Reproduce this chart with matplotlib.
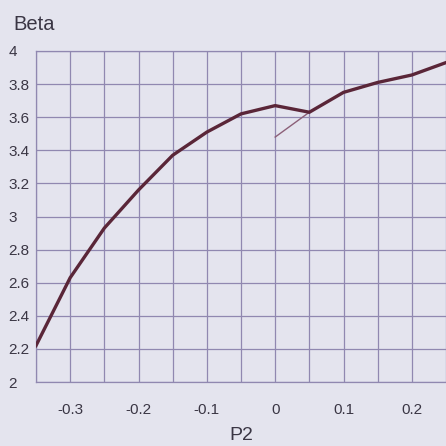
import matplotlib
matplotlib.use("Agg")
import matplotlib.pyplot as plt
import numpy as np

# Data
p2 = [-0.35, -0.30, -0.25, -0.20, -0.15, -0.10, -0.05, 0.00, 0.05, 0.10, 0.15, 0.20, 0.25]
beta = [2.22, 2.63, 2.93, 3.16, 3.37, 3.51, 3.62, 3.67, 3.63, 3.75, 3.81, 3.855, 3.93]
p2_branch = [0.00, 0.05]
beta_branch = [3.48, 3.63]

x_ticks = [-0.35, -0.30, -0.25, -0.20, -0.15, -0.10, -0.05, 0.00, 0.05, 0.10, 0.15, 0.20, 0.25]
x_labels = ["", "-0.3", "", "-0.2", "", "-0.1", "", "0", "", "0.1", "", "0.2", ""]
y_ticks = [2, 2.2, 2.4, 2.6, 2.8, 3, 3.2, 3.4, 3.6, 3.8, 4]
y_labels = ["2", "2.2", "2.4", "2.6", "2.8", "3", "3.2", "3.4", "3.6", "3.8", "4"]

bg = "#e4e4ee"
grid_c = "#9088b0"
text_c = "#3a3644"

plt.rcParams['font.family'] = ['Liberation Sans', 'DejaVu Sans']

fig = plt.figure(figsize=(4.46, 4.46), dpi=100, facecolor=bg)
W = H = 446.0
left, right, top, bottom = 36, 446, 51, 382
ax = fig.add_axes([left / W, 1 - bottom / H, (right - left) / W, (bottom - top) / H])
ax.set_facecolor(bg)

ax.plot(p2, beta, color="#5a2638", lw=2.4, solid_joinstyle="miter", zorder=3)
ax.plot(p2_branch, beta_branch, color="#8c6078", lw=1.0, zorder=2)

ax.set_xlim(-0.35, -0.35 + (right - left) / 68.6 * 0.1)
ax.set_ylim(2, 4)
ax.set_xticks(x_ticks)
ax.set_xticklabels(x_labels)
ax.set_yticks(y_ticks)
ax.set_yticklabels(y_labels)
ax.grid(True, color=grid_c, lw=0.9)
ax.set_axisbelow(True)
for s in ["left", "bottom", "top"]:
    ax.spines[s].set_color(grid_c)
    ax.spines[s].set_linewidth(0.9)
ax.spines["right"].set_visible(False)

ax.tick_params(axis="both", length=0, labelsize=11, labelcolor=text_c)
ax.tick_params(axis="x", pad=15)
ax.tick_params(axis="y", pad=20)
for lab in ax.get_yticklabels():
    lab.set_horizontalalignment("left")

fig.text(241 / W, 1 - 436 / H, "P2", fontsize=14, color=text_c, ha="center", va="center")
fig.text(13 / W, 1 - 25 / H, "Beta", fontsize=14.5, color=text_c, ha="left", va="center")

fig.savefig("out.png", dpi=100, facecolor=bg)
